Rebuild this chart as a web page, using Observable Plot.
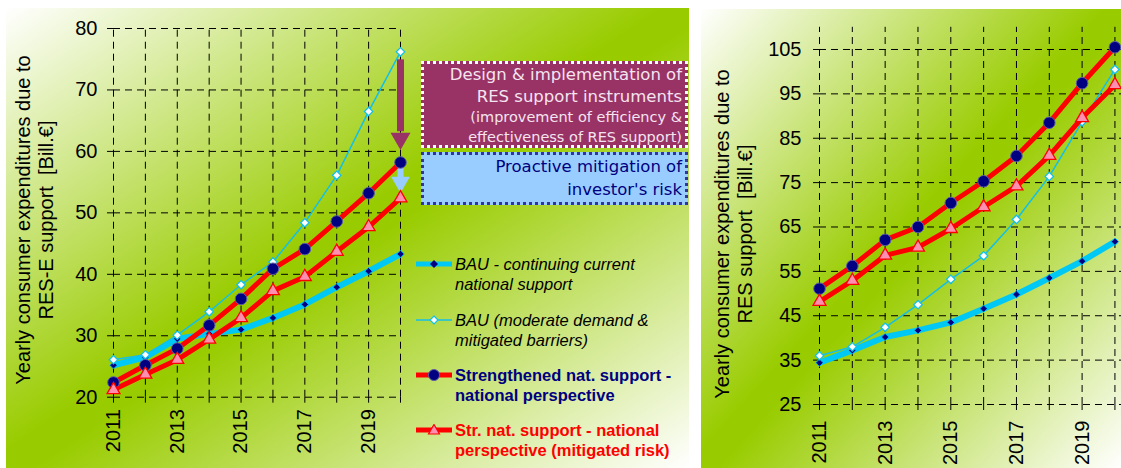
<!DOCTYPE html>
<html>
<head>
<meta charset="utf-8">
<script src="https://cdn.jsdelivr.net/npm/d3@7"></script>
<script src="https://cdn.jsdelivr.net/npm/@observablehq/plot@0.6"></script>
<style>
  html, body { margin: 0; padding: 0; background: #ffffff; }
  body { width: 1121px; height: 468px; position: relative; overflow: hidden; font-family: "Liberation Sans", Arial, sans-serif; }
  .panel { position: absolute; background: linear-gradient(to bottom right, #ffffff 0%, #99cc00 48%, #99cc00 52%, #ffffff 100%); }
  .panel svg { position: absolute; left: 0; top: 0; background: transparent; overflow: visible; }
  .ytitle { position: absolute; white-space: nowrap; font-size: 20px; color: #000; transform: translate(-50%, -50%) rotate(-90deg); line-height: 23px; text-align: center; }
  .box { position: absolute; box-sizing: border-box; text-align: right; font-family: "DejaVu Sans", Verdana, sans-serif; padding: 0 3px 0 0; }
  .box1 { background: #993366; border: 3px dotted #ffffff; color: #f4e4f0; }
  .box2 { background: #99ccff; border: 3px dotted #333399; color: #000080; }
  .leg { position: absolute; font-size: 16.5px; line-height: 20px; white-space: nowrap; }
  .leg svg { position: absolute; left: -41px; top: 4px; }
</style>
</head>
<body>
<div id="left" class="panel" style="left:6px; top:8px; width:683px; height:460px;"></div>
<div id="right" class="panel" style="left:701px; top:9px; width:420px; height:459px;"></div>
<script>
// ---------- data ----------
const years = [2011, 2012, 2013, 2014, 2015, 2016, 2017, 2018, 2019, 2020];
const xTickLabels = ["2011", "", "2013", "", "2015", "", "2017", "", "2019", ""];

// left chart (RES-E support)
const leftBauCont  = [25.2, 26.5, 29.5, 30.3, 31.0, 32.9, 35.1, 37.9, 40.5, 43.3];
const leftBauMod   = [26.1, 26.9, 30.1, 33.9, 38.3, 42.0, 48.4, 56.1, 66.5, 76.2];
const leftStr      = [22.4, 25.2, 27.9, 31.7, 36.0, 40.9, 44.1, 48.6, 53.2, 58.2];
const leftStrMit   = [21.2, 23.7, 26.1, 29.4, 32.9, 37.3, 39.6, 43.7, 47.7, 52.4];
const leftYTicks   = [20, 30, 40, 50, 60, 70, 80];

// right chart (RES support)
const rightBauCont = [34.4, 37.2, 40.2, 41.7, 43.5, 46.6, 49.8, 53.5, 57.3, 61.7];
const rightBauMod  = [36.0, 38.0, 42.4, 47.5, 53.2, 58.5, 66.7, 76.4, 88.7, 100.5];
const rightStr     = [51.1, 56.2, 62.1, 65.0, 70.4, 75.3, 81.0, 88.5, 97.4, 105.5];
const rightStrMit  = [48.2, 52.9, 58.6, 60.4, 64.6, 69.5, 74.2, 81.1, 89.6, 97.0];
const rightYTicks  = [25, 35, 45, 55, 65, 75, 85, 95, 105];

// annotation arrows (left chart, at 2020)
const arrowYear = 2020;
const purpleShaft = [74.9, 63.2];
const purpleHead = 62.1;
const blueShaft = [57.6, 55.6];
const blueHead = 55.0;

const seriesNames = [
  "BAU - continuing current national support",
  "BAU (moderate demand & mitigated barriers)",
  "Strengthened nat. support - national perspective",
  "Str. nat. support - national perspective (mitigated risk)"
];

const CYAN = "#00c8f5", NAVY = "#000080", RED = "#ff0000", PINK = "#ff8fb0";

function rows(values) { return years.map((y, i) => ({year: y, value: values[i]})); }

function seriesMarks(bauCont, bauMod, str, strMit) {
  const a = rows(bauCont), b = rows(bauMod), c = rows(str), d = rows(strMit);
  return [
    Plot.line(a, {x: "year", y: "value", stroke: CYAN, strokeWidth: 6}),
    Plot.dot(a, {x: "year", y: "value", symbol: "diamond2", r: 3.3, fill: NAVY, stroke: CYAN, strokeWidth: 0.8}),
    Plot.line(b, {x: "year", y: "value", stroke: "#14bfe8", strokeWidth: 1.5}),
    Plot.dot(b, {x: "year", y: "value", symbol: "diamond2", r: 3.8, fill: "#ffffff", stroke: "#14bfe8", strokeWidth: 1.3}),
    Plot.line(c, {x: "year", y: "value", stroke: RED, strokeWidth: 5}),
    Plot.line(d, {x: "year", y: "value", stroke: RED, strokeWidth: 5}),
    Plot.dot(c, {x: "year", y: "value", r: 5.8, fill: NAVY, stroke: "#5c5ca8", strokeWidth: 1}),
    Plot.dot(d, {x: "year", y: "value", symbol: "triangle", r: 4.8, fill: PINK, stroke: RED, strokeWidth: 1.3})
  ];
}

// ---------- left plot ----------
const leftMarks = seriesMarks(leftBauCont, leftBauMod, leftStr, leftStrMit);
const left = Plot.plot({
  width: 683, height: 460,
  marginLeft: 107, marginRight: 289, marginTop: 20, marginBottom: 71.3,
  style: {fontFamily: "Liberation Sans, Arial, sans-serif", fontSize: "20px", background: "transparent", color: "#000", overflow: "visible"},
  x: {domain: [2011, 2020]},
  y: {domain: [20, 80]},
  marks: [
    Plot.ruleX(years, {x: d => d, y1: 20, y2: 80, stroke: "#000", strokeWidth: 1, strokeDasharray: "7,5"}),
    Plot.ruleY(leftYTicks, {y: d => d, x1: 2011, x2: 2020, stroke: "#000", strokeWidth: 1, strokeDasharray: "7,5"}),
    Plot.axisY({ticks: leftYTicks, tickSize: 6, tickPadding: 10, label: null, fontSize: 20}),
    Plot.axisX({ticks: years, tickSize: 6, tickPadding: 6, tickRotate: -90, label: null, fontSize: 20,
                tickFormat: d => xTickLabels[years.indexOf(d)]}),
    ...leftMarks.slice(0, 4),
    Plot.ruleX([arrowYear], {x: d => d, y1: purpleShaft[0], y2: purpleShaft[1], stroke: "#993366", strokeWidth: 7}),
    Plot.dot([arrowYear], {x: d => d, y: purpleHead, symbol: "triangle", rotate: 180, r: 7.4, fill: "#993366"}),
    Plot.ruleX([arrowYear], {x: d => d, y1: blueShaft[0], y2: blueShaft[1], stroke: "#99ccff", strokeWidth: 6}),
    Plot.dot([arrowYear], {x: d => d, y: blueHead, symbol: "triangle", rotate: 180, r: 7.0, fill: "#99ccff"}),
    ...leftMarks.slice(4)
  ]
});
document.getElementById("left").appendChild(left);

// ---------- right plot ----------
const right = Plot.plot({
  width: 420, height: 459,
  marginLeft: 118, marginRight: 0, marginTop: 17.8, marginBottom: 64,
  style: {fontFamily: "Liberation Sans, Arial, sans-serif", fontSize: "20px", background: "transparent", color: "#000", overflow: "visible"},
  x: {domain: [2011, 2020.2]},
  y: {domain: [25, 110]},
  marks: [
    Plot.ruleX(years, {x: d => d, y1: 25, y2: 110, stroke: "#000", strokeWidth: 1, strokeDasharray: "7,5"}),
    Plot.ruleY(rightYTicks, {y: d => d, x1: 2011, x2: 2020.2, stroke: "#000", strokeWidth: 1, strokeDasharray: "7,5"}),
    Plot.axisY({ticks: rightYTicks, tickSize: 6, tickPadding: 12, label: null, fontSize: 20}),
    Plot.axisX({ticks: years, tickSize: 6, tickPadding: 10, tickRotate: -90, label: null, fontSize: 20,
                tickFormat: d => xTickLabels[years.indexOf(d)]}),
    ...seriesMarks(rightBauCont, rightBauMod, rightStr, rightStrMit)
  ]
});
document.getElementById("right").appendChild(right);

// ---------- y titles ----------
function addTitle(x, y, lines) {
  const el = document.createElement("div");
  el.className = "ytitle";
  el.style.left = x + "px"; el.style.top = y + "px";
  el.innerHTML = lines.join("<br>");
  document.body.appendChild(el);
}
addTitle(35, 220, ["Yearly consumer expenditures due to", "RES-E support&nbsp; [Bill.€]"]);
addTitle(734, 234, ["Yearly consumer expenditures due to", "RES support&nbsp; [Bill.€]"]);

// ---------- annotation boxes ----------
const b1 = document.createElement("div");
b1.className = "box box1";
Object.assign(b1.style, {left: "421px", top: "61px", width: "267px", height: "87px"});
b1.innerHTML = '<div style="font-size:16.5px;line-height:22px">Design &amp; implementation of<br>RES support instruments</div>' +
               '<div style="font-size:14.5px;line-height:19.5px">(improvement of efficiency &amp;<br>effectiveness of RES support)</div>';
document.body.appendChild(b1);
const b2 = document.createElement("div");
b2.className = "box box2";
Object.assign(b2.style, {left: "421px", top: "152px", width: "267px", height: "53px"});
b2.innerHTML = '<div style="font-size:16.5px;line-height:22.5px;padding-top:1px">Proactive mitigation of<br>investor\'s risk</div>';
document.body.appendChild(b2);

// ---------- legend ----------
const legendStyles = [
  {top: 254, css: "font-style:italic;color:#000", lines: ["BAU - continuing current", "national support"],
   swatch: `<line x1="2" y1="6" x2="38" y2="6" stroke="${CYAN}" stroke-width="5"/><path d="M20 2 L24 6 L20 10 L16 6 Z" fill="${NAVY}"/>`},
  {top: 310, css: "font-style:italic;color:#000", lines: ["BAU (moderate demand &amp;", "mitigated barriers)"],
   swatch: `<line x1="2" y1="6" x2="38" y2="6" stroke="#14bfe8" stroke-width="1.5"/><path d="M20 2 L24 6 L20 10 L16 6 Z" fill="#fff" stroke="#14bfe8" stroke-width="1.2"/>`},
  {top: 365, css: "font-weight:bold;color:#000080", lines: ["Strengthened nat. support -", "national perspective"],
   swatch: `<line x1="2" y1="6" x2="38" y2="6" stroke="${RED}" stroke-width="5"/><circle cx="20" cy="6" r="5.5" fill="${NAVY}" stroke="#5c5ca8"/>`},
  {top: 420, css: "font-weight:bold;color:#ff0000", lines: ["Str. nat. support - national", "perspective (mitigated risk)"],
   swatch: `<line x1="2" y1="6" x2="38" y2="6" stroke="${RED}" stroke-width="5"/><path d="M20 0.5 L25.5 10 L14.5 10 Z" fill="${PINK}" stroke="${RED}" stroke-width="1.2"/>`}
];
legendStyles.forEach((L, i) => {
  const el = document.createElement("div");
  el.className = "leg";
  el.setAttribute("title", seriesNames[i]);
  el.style.cssText += `left:455px;top:${L.top}px;${L.css}`;
  el.innerHTML = `<svg width="40" height="12">${L.swatch}</svg>` + L.lines.join("<br>");
  document.body.appendChild(el);
});
</script>
</body>
</html>
